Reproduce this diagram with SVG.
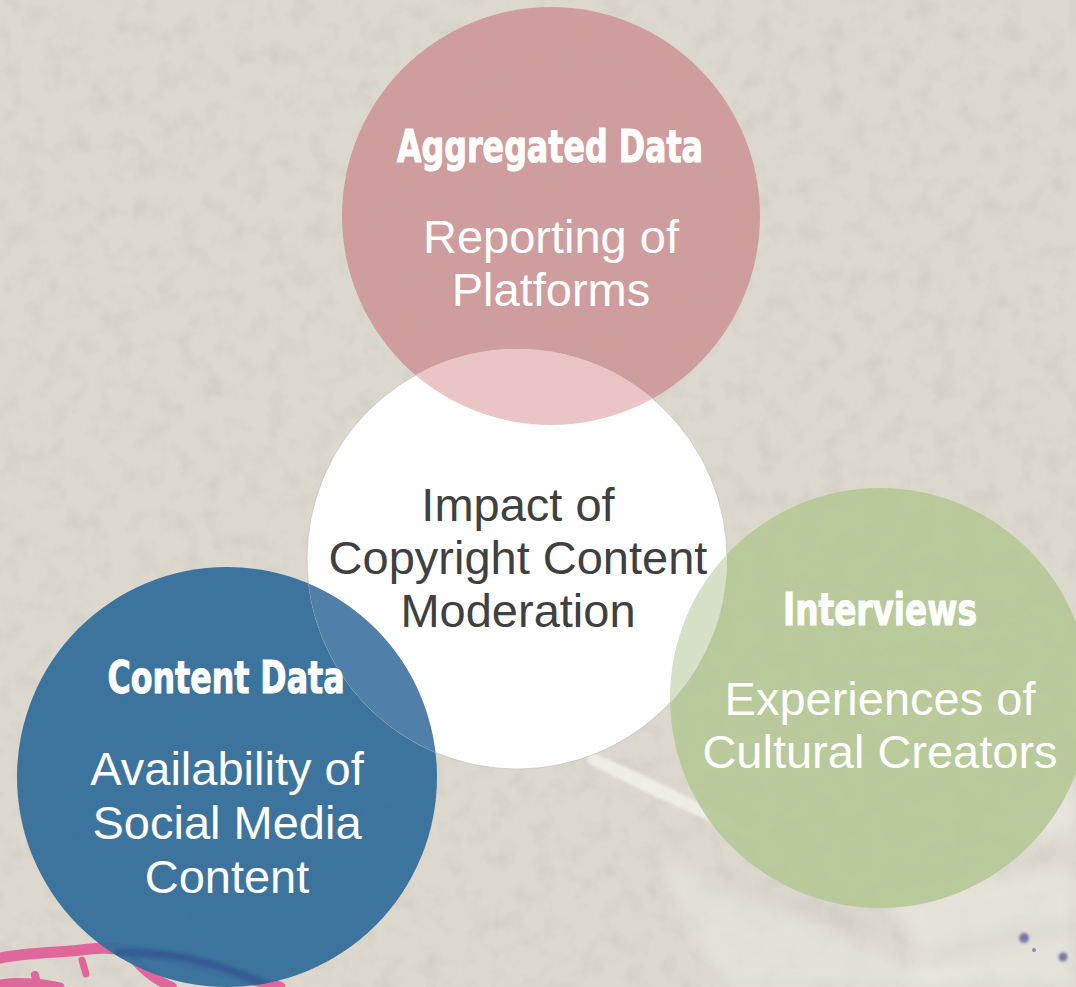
<svg xmlns="http://www.w3.org/2000/svg" width="1076" height="987" viewBox="0 0 1076 987">
  <style>
    .title { font-family: "Liberation Sans Narrow", "DejaVu Sans Condensed", "Liberation Sans", sans-serif; font-weight: 700; font-size: 44px; fill: #ffffff; stroke: #ffffff; stroke-width: 1px; text-anchor: middle; }
    .body { font-family: "Liberation Sans", Arial, sans-serif; font-size: 47px; fill: #ffffff; text-anchor: middle; }
    .core { font-family: "Liberation Sans", Arial, sans-serif; font-size: 47px; fill: #404040; text-anchor: middle; }
  </style>
  <defs>
    <filter id="grain" filterUnits="userSpaceOnUse" x="0" y="0" width="1076" height="987">
      <feTurbulence type="fractalNoise" baseFrequency="0.045" numOctaves="4" seed="7"/>
      <feColorMatrix type="matrix" values="0 0 0 0 0.50  0 0 0 0 0.48  0 0 0 0 0.43  0 0 0 0.55 -0.24"/>
    </filter>
    <filter id="soft" filterUnits="userSpaceOnUse" x="0" y="0" width="1076" height="987">
      <feGaussianBlur stdDeviation="8"/>
    </filter>
    <filter id="softer" filterUnits="userSpaceOnUse" x="0" y="0" width="1076" height="987">
      <feGaussianBlur stdDeviation="1.5"/>
    </filter>
    <clipPath id="clipWhite"><circle cx="517" cy="559" r="210"/></clipPath>
    <clipPath id="clipBlue"><circle cx="227" cy="777" r="210"/></clipPath>
  </defs>

  <!-- paper background -->
  <rect width="1076" height="987" fill="#dcd8ce"/>
  <rect width="1076" height="987" filter="url(#grain)"/>

  <!-- light streaks and stains near the bottom edge -->
  <g id="texture">
    <path d="M590,752 C640,772 700,802 760,836 L768,846 C700,818 640,790 586,762 Z" fill="#f4f3ec" opacity="0.8" filter="url(#softer)"/>
    <path d="M660,860 C720,880 780,905 830,930 C870,950 910,965 960,975 L960,987 L720,987 C700,950 680,900 660,860 Z" fill="#eae9e2" opacity="0.55" filter="url(#soft)"/>
    <path d="M700,885 C760,895 820,910 870,930" stroke="#b9b6ae" stroke-width="6" fill="none" opacity="0.5" filter="url(#soft)"/>
    <path d="M890,905 C940,885 1000,875 1076,865 L1076,987 L910,987 C930,960 910,930 890,905 Z" fill="#eceae3" opacity="0.6" filter="url(#soft)"/>
    <path d="M930,958 C980,942 1030,932 1076,928" stroke="#b4b1aa" stroke-width="5" fill="none" opacity="0.5" filter="url(#soft)"/>
    <path d="M1000,820 C1030,800 1060,790 1076,785 L1076,840 C1050,840 1020,835 1000,820 Z" fill="#efeee8" opacity="0.6" filter="url(#soft)"/>
    <circle cx="1024" cy="938" r="5" fill="#5a5a9a" opacity="0.8" filter="url(#softer)"/>
    <circle cx="1063" cy="957" r="4.5" fill="#5a5a9a" opacity="0.8" filter="url(#softer)"/>
    <circle cx="1034" cy="950" r="2" fill="#6a6a9a" opacity="0.7"/>
    <!-- pink splash, lower left -->
    <g fill="none" stroke="#e0679b" stroke-linecap="round" stroke-linejoin="round">
      <path d="M0,958 C30,952 60,953 90,949 C120,946 150,953 180,961 C220,971 250,979 280,987" stroke-width="11"/>
      <path d="M0,984 C20,981 40,983 60,987" stroke-width="9"/>
      <path d="M82,960 L86,974" stroke-width="7"/>
      <path d="M35,975 L38,987" stroke-width="8"/>
      <path d="M135,960 C148,975 160,982 172,987" stroke-width="10"/>
    </g>
  </g>

  <!-- outer circles -->
  <g id="node-aggregated">
    <circle cx="551" cy="216" r="209" fill="#cd9a9a" fill-opacity="0.95"/>
  </g>
  <g id="node-content">
    <circle cx="227" cy="777" r="210" fill="#356f9b" fill-opacity="0.96"/>
    <path d="M115,953 C170,950 220,962 270,987" stroke="#2f4f8f" stroke-width="8" fill="none" opacity="0.55" clip-path="url(#clipBlue)" filter="url(#softer)"/>
  </g>
  <g id="node-interviews">
    <circle cx="880" cy="698" r="210" fill="#b6c897" fill-opacity="0.93"/>
  </g>

  <!-- centre circle and its overlaps -->
  <g id="node-core">
    <circle cx="517" cy="559" r="210" fill="#ffffff" stroke="#bdb8ad" stroke-width="1" stroke-opacity="0.6"/>
    <g clip-path="url(#clipWhite)">
      <circle cx="551" cy="216" r="209" fill="#ebc5c6"/>
      <circle cx="227" cy="777" r="210" fill="#5080aa"/>
      <circle cx="880" cy="698" r="210" fill="#d5e0c6"/>
    </g>
    <text class="core" x="518" y="521">Impact of</text>
    <text class="core" x="518" y="574">Copyright Content</text>
    <text class="core" x="518" y="627">Moderation</text>
  </g>

  <!-- labels of the outer circles -->
  <g id="label-aggregated">
    <text class="title" x="550" y="162" textLength="306" lengthAdjust="spacingAndGlyphs">Aggregated Data</text>
    <text class="body" x="551" y="253">Reporting of</text>
    <text class="body" x="551" y="306">Platforms</text>
  </g>
  <g id="label-content">
    <text class="title" x="226" y="693" textLength="237" lengthAdjust="spacingAndGlyphs">Content Data</text>
    <text class="body" x="227" y="785">Availability of</text>
    <text class="body" x="227" y="839">Social Media</text>
    <text class="body" x="227" y="893">Content</text>
  </g>
  <g id="label-interviews">
    <text class="title" x="880" y="625" textLength="194" lengthAdjust="spacingAndGlyphs">Interviews</text>
    <text class="body" x="880" y="715">Experiences of</text>
    <text class="body" x="880" y="768">Cultural Creators</text>
  </g>
</svg>
